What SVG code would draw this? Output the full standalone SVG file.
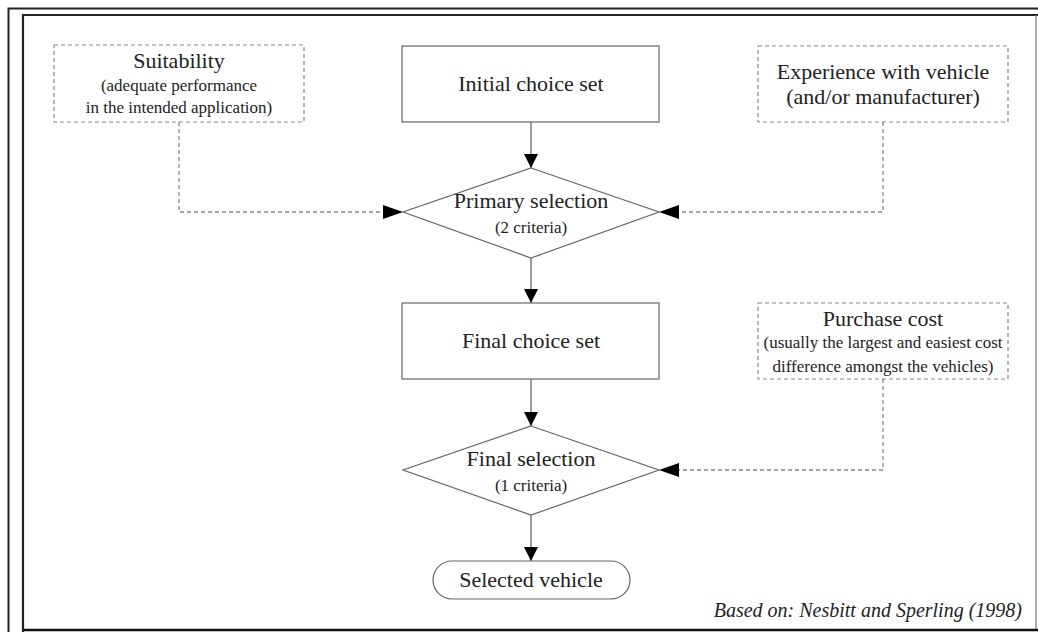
<svg xmlns="http://www.w3.org/2000/svg" width="1038" height="632" viewBox="0 0 1038 632">
<style>
text{font-family:"Liberation Serif","Times New Roman",serif;fill:#222;text-anchor:middle}
.big{font-size:22px}
.small{font-size:17px}
.box{fill:#fff;stroke:#666;stroke-width:1.2}
.dbox{fill:#fff;stroke:#888;stroke-width:1.2;stroke-dasharray:4 3}
.flow{fill:none;stroke:#666;stroke-width:1.3}
.dflow{fill:none;stroke:#888;stroke-width:1.3;stroke-dasharray:4 3}
</style>
<defs>
<marker id="av" markerUnits="userSpaceOnUse" markerWidth="14" markerHeight="14" refX="14" refY="7" orient="auto">
<path d="M0,0 L14,7 L0,14 z" fill="#000"/>
</marker>
<marker id="ah" markerUnits="userSpaceOnUse" markerWidth="20" markerHeight="14" refX="20" refY="7" orient="auto">
<path d="M0,0 L20,7 L0,14 z" fill="#000"/>
</marker>
</defs>
<rect width="1038" height="632" fill="#fff"/>
<g id="frame">
<polyline points="8.5,632 8.5,8.5 1038,8.5" fill="none" stroke="#222" stroke-width="2"/>
<path d="M23,632 L23,15 L1038,15" fill="none" stroke="#222" stroke-width="2.2"/>
<line x1="1036" y1="15" x2="1036" y2="630" stroke="#777" stroke-width="1.2"/>
<line x1="23" y1="630" x2="1038" y2="630" stroke="#111" stroke-width="2.5"/>
</g>
<g id="connectors">
<line class="flow" x1="531" y1="122" x2="531" y2="168" marker-end="url(#av)"/>
<line class="flow" x1="531" y1="258" x2="531" y2="303" marker-end="url(#av)"/>
<line class="flow" x1="531" y1="379" x2="531" y2="426" marker-end="url(#av)"/>
<line class="flow" x1="531" y1="515" x2="531" y2="561" marker-end="url(#av)"/>
<polyline class="dflow" points="179,122 179,212 403,212" marker-end="url(#ah)"/>
<polyline class="dflow" points="883,122 883,212 659,212" marker-end="url(#ah)"/>
<polyline class="dflow" points="883,379 883,470 659,470" marker-end="url(#ah)"/>
</g>
<g id="suitability">
<rect class="dbox" x="54" y="45" width="250" height="77"/>
<text class="big" x="179" y="68">Suitability</text>
<text class="small" x="179" y="91">(adequate performance</text>
<text class="small" x="179" y="113">in the intended application)</text>
</g>
<g id="initial">
<rect class="box" x="402" y="46" width="257" height="76"/>
<text class="big" x="531" y="91">Initial choice set</text>
</g>
<g id="experience">
<rect class="dbox" x="758" y="46" width="250" height="76"/>
<text class="big" x="883" y="79">Experience with vehicle</text>
<text class="big" x="883" y="104">(and/or manufacturer)</text>
</g>
<g id="primary">
<polygon class="box" points="531,168 659,212 531,258 403,212"/>
<text class="big" x="531" y="208">Primary selection</text>
<text class="small" x="531" y="233">(2 criteria)</text>
</g>
<g id="finalset">
<rect class="box" x="402" y="303" width="257" height="76"/>
<text class="big" x="531" y="348">Final choice set</text>
</g>
<g id="purchase">
<rect class="dbox" x="758" y="303" width="250" height="76"/>
<text class="big" x="883" y="326">Purchase cost</text>
<text class="small" x="883" y="348">(usually the largest and easiest cost</text>
<text class="small" x="883" y="372">difference amongst the vehicles)</text>
</g>
<g id="finalsel">
<polygon class="box" points="531,426 659,470 531,515 403,470"/>
<text class="big" x="531" y="466">Final selection</text>
<text class="small" x="531" y="491">(1 criteria)</text>
</g>
<g id="selected">
<rect class="box" x="433" y="561" width="197" height="38" rx="19" ry="19"/>
<text class="big" x="531" y="587">Selected vehicle</text>
</g>
<g id="source">
<text x="1022" y="617" style="font-size:20px;font-style:italic;text-anchor:end">Based on: Nesbitt and Sperling (1998)</text>
</g>
</svg>
